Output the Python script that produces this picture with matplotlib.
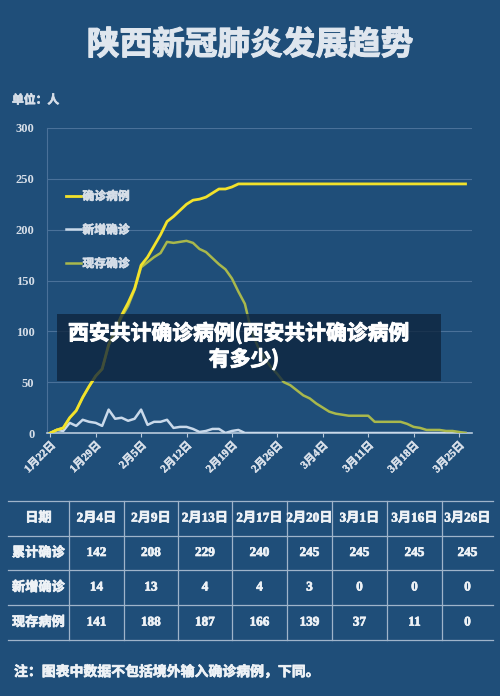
#######################################
#### Shaanxi COVID-19 trend chart
#######################################
import matplotlib.pyplot as plt
import matplotlib.patheffects as pe
from matplotlib.patches import Rectangle
import numpy as np

#######################################
#### Data (Jan 22 .. Mar 26, daily)
#######################################
tick_labels = ["1月22日", "1月29日", "2月5日", "2月12日", "2月19日",
               "2月26日", "3月4日", "3月11日", "3月18日", "3月25日"]

total_cases = [0, 3, 5, 15, 22, 35, 46, 56, 63, 87,
               101, 116, 128, 142, 165, 173, 184, 195, 208, 213,
               219, 225, 229, 230, 232, 236, 240, 240, 242, 245,
               245, 245, 245, 245, 245, 245, 245, 245, 245, 245,
               245, 245, 245, 245, 245, 245, 245, 245, 245, 245,
               245, 245, 245, 245, 245, 245, 245, 245, 245, 245,
               245, 245, 245, 245, 245]
new_cases = [0, 3, 2, 10, 7, 13, 11, 10, 7, 23,
             14, 15, 12, 14, 23, 8, 11, 11, 13, 5,
             6, 6, 4, 1, 2, 4, 4, 0, 2, 3,
             0, 0, 0, 0, 0, 0, 0, 0, 0, 0,
             0, 0, 0, 0, 0, 0, 0, 0, 0, 0,
             0, 0, 0, 0, 0, 0, 0, 0, 0, 0,
             0, 0, 0, 0, 0]
current_cases = [0, 3, 5, 15, 22, 35, 46, 56, 63, 86,
                 100, 114, 125, 141, 163, 168, 173, 177, 188, 187,
                 188, 189, 187, 181, 178, 172, 166, 161, 152, 139,
                 127, 100, 85, 74, 65, 58, 50, 47, 42, 37,
                 34, 29, 25, 21, 19, 18, 17, 17, 17, 17,
                 11, 11, 11, 11, 11, 9, 6, 5, 3, 3,
                 3, 2, 2, 1, 0]
series_names = ["确诊病例", "新增确诊", "现存确诊"]

table_cols = ["日期", "2月4日", "2月9日", "2月13日", "2月17日", "2月20日",
              "3月1日", "3月16日", "3月26日"]
table_rows = [["累计确诊", "142", "208", "229", "240", "245", "245", "245", "245"],
              ["新增确诊", "14", "13", "4", "4", "3", "0", "0", "0"],
              ["现存病例", "141", "188", "187", "166", "139", "37", "11", "0"]]

#######################################
#### Style
#######################################
BG = "#1f4e79"
FG = "#d6dee8"
CJK = ["Noto Sans CJK SC", "DejaVu Sans"]
MIX = ["Liberation Serif", "Noto Sans CJK SC"]
plt.rcParams['font.family'] = CJK

def heavy(c, w=0.7):
   # fake a heavier weight for the CJK glyphs
   return [pe.withStroke(linewidth=w, foreground=c)]

W, H = 500.0, 696.0
def fx(px):
   return px / W
def fy(py):
   return 1 - py / H

fig = plt.figure(figsize=(5, 6.96), dpi=100)
fig.patch.set_facecolor(BG)

#### Title and unit
fig.text(0.5, fy(45), "陕西新冠肺炎发展趋势", ha="center", va="center",
         fontsize=23.5, fontweight="bold", color="#dfe6ee",
         path_effects=heavy("#dfe6ee", 0.8))
fig.text(fx(12), fy(100), "单位：人", ha="left", va="center",
         fontsize=8.5, fontweight="bold", color=FG, path_effects=heavy(FG, 0.5))

#######################################
#### Line chart
#######################################
ax = fig.add_axes([fx(47), fy(433), fx(472) - fx(47), fy(128) - fy(433)])
ax.set_facecolor(BG)
days = np.arange(len(total_cases))

ax.plot(days, total_cases, color="#f2e22b", lw=2.0, label=series_names[0], zorder=4)
ax.plot(days, new_cases, color="#c9d9ea", lw=1.8, label=series_names[1], zorder=3)
ax.plot(days, current_cases, color="#a9b84c", lw=1.8, label=series_names[2], zorder=3)

ax.set_xlim(-0.5, 65)
ax.set_ylim(0, 300)
ax.set_yticks(np.arange(0, 301, 50))
ax.set_xticks(np.arange(0, 64, 7))
ax.set_xticklabels(tick_labels)
ax.grid(axis="y", color="#4a7199", lw=0.8)
ax.set_axisbelow(True)
for s in ["top", "right"]:
   ax.spines[s].set_visible(False)
ax.spines["left"].set_color("#4a7199")
ax.spines["bottom"].set_color("#b8cadc")
ax.spines["bottom"].set_linewidth(1.2)
ax.tick_params(axis="y", length=0, pad=9, colors=FG)
ax.tick_params(axis="x", length=3, color="#b8cadc", pad=2, colors=FG)
for lb in ax.get_yticklabels():
   lb.set_fontfamily(MIX)
   lb.set_fontweight("bold")
   lb.set_fontsize(9)
for lb in ax.get_xticklabels():
   lb.set_fontfamily(MIX)
   lb.set_fontweight("bold")
   lb.set_fontsize(8)
   lb.set_rotation(45)
   lb.set_ha("right")
   lb.set_rotation_mode("anchor")
   lb.set_path_effects(heavy(FG, 0.3))

leg = ax.legend(loc="upper left", bbox_to_anchor=(fx(60), fy(184)),
                bbox_transform=fig.transFigure, frameon=False,
                handlelength=1.3, handletextpad=0.1, labelspacing=1.75,
                borderpad=0, prop={"family": CJK, "weight": "bold", "size": 8.5})
for t in leg.get_texts():
   t.set_color(FG)
   t.set_path_effects(heavy(FG, 0.5))

#### Overlay caption box
fig.add_artist(Rectangle((fx(57), fy(381)), fx(441) - fx(57), fy(314) - fy(381),
                         transform=fig.transFigure, facecolor="#0e243d",
                         alpha=0.78, edgecolor="none", zorder=5))
fig.text(fx(239), fy(333), "西安共计确诊病例(西安共计确诊病例", ha="center", va="center",
         fontsize=15, fontweight="bold", color="white", zorder=6,
         path_effects=heavy("white", 0.7))
fig.text(fx(244), fy(359), "有多少)", ha="center", va="center",
         fontsize=15, fontweight="bold", color="white", zorder=6,
         path_effects=heavy("white", 0.7))

#######################################
#### Table
#######################################
col_edges = [8, 69, 124, 178, 232, 287, 332, 387, 442, 493]
row_edges = [501, 536, 570, 605, 640]
tab = fig.add_axes([0, 0, 1, 1], zorder=-1)
tab.set_xlim(0, W)
tab.set_ylim(H, 0)
tab.axis("off")
for r in row_edges:
   tab.plot([col_edges[0], col_edges[-1]], [r, r], color="#9fb4ca", lw=0.9)
for c in col_edges[1:-1]:
   tab.plot([c, c], [row_edges[0], row_edges[-1]], color="#9fb4ca", lw=0.9)
all_rows = [table_cols] + table_rows
for i, row in enumerate(all_rows):
   yc = (row_edges[i] + row_edges[i + 1]) / 2
   for j, txt in enumerate(row):
      xc = (col_edges[j] + col_edges[j + 1]) / 2
      tab.text(xc, yc, txt, ha="center", va="center", fontsize=9.5,
               fontweight="bold", color="#eef2f6", family=MIX,
               path_effects=heavy("#eef2f6", 0.5))

#### Footnote
fig.text(fx(14), fy(672), "注：图表中数据不包括境外输入确诊病例，下同。", ha="left",
         va="center", fontsize=10, fontweight="bold", color="#eef2f6",
         path_effects=heavy("#eef2f6", 0.5))

plt.savefig("out.png", dpi=100, facecolor=BG)
